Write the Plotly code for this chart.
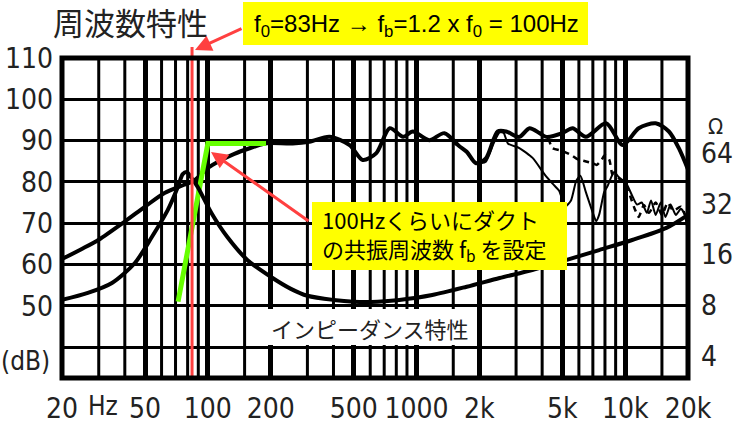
import numpy as np
import plotly.graph_objects as go

# ---------------- data ----------------
# main on-axis frequency response (Hz, dB)
resp_f = [20, 25, 30, 40, 50, 62, 77, 86, 100, 115, 134, 160, 185, 200, 255, 307, 383, 478, 552, 640,
          744, 862, 960, 1150, 1360, 1600, 1740, 1930, 2150, 2450, 2690, 3110, 3480, 3890, 4190,
          5000, 5600, 6480, 8100, 9740, 11600, 14000, 16200, 18100, 20000]
resp_db = [61.3, 63.8, 66.0, 70.4, 74.0, 77.3, 79.3, 80.3, 83.4, 85.2, 86.8, 88.2, 89.2, 89.4, 89.3, 89.7, 90.9, 88.9, 85.3, 86.9,
           93.0, 90.9, 92.2, 90.1, 91.8, 88.7, 87.3, 84.5, 85.7, 92.2, 92.2, 90.9, 93.0, 91.8, 90.9,
           91.8, 93.0, 90.9, 94.2, 88.9, 93.0, 94.2, 92.2, 88.1, 83.0]

# off-axis response 1 (thin solid)
offa_f = [1450, 1520, 1700, 1860, 1950, 2150, 2350, 2500, 2620, 2740, 3110, 3600, 4100, 4500, 4830, 5150,
          5500, 5830, 6100, 6480, 7000, 7260, 7500, 7930, 8200, 8850, 9300, 10100, 10900, 11400, 12000,
          12700, 13300, 14000, 14800, 15600, 16500, 17500, 18500, 19300, 20000]
offa_db = [90.6, 89.3, 87.7, 85.3, 84.5, 84.9, 89.5, 92.0, 91.8, 89.3, 88.2, 85.8, 81.9, 79.5, 77.8, 74.0,
           75.5, 80.3, 81.5, 77.5, 72.5, 70.5, 72.0, 77.5, 78.8, 82.4, 81.2, 79.7, 76.2, 74.5, 75.0,
           72.5, 75.5, 72.0, 75.0, 71.5, 74.5, 72.0, 73.5, 72.0, 67.5]

# off-axis response 2 (dashed)
offb_f = [4300, 4470, 5000, 5510, 5900, 6430, 7000, 7300, 7700, 8000, 8400, 8700, 9300, 10000, 10400,
          11100, 11600, 12300, 13000, 14000, 15000, 16000, 17000, 18500, 20000]
offb_db = [90.5, 88.2, 87.5, 86.5, 85.5, 85.0, 84.5, 84.1, 85.3, 86.5, 85.3, 81.7, 80.9, 79.0, 77.5,
           73.5, 71.5, 74.4, 72.5, 75.0, 72.0, 75.0, 73.0, 74.0, 70.0]

# impedance (Hz, ohm)
imp_f = [20, 26.6, 34.7, 44.7, 53.9, 64.3, 71.8, 75.8, 79.2, 82, 89.4, 104, 124, 155, 200, 250, 300, 400,
         500, 650, 828, 1190, 1740, 2500, 3590, 5200, 7500, 10800, 15760, 20000]
imp_ohm = [8.6, 9.46, 10.84, 14.24, 20.3, 29.4, 40.2, 48.0, 49.4, 47.0, 40.2, 28.2, 20.3, 14.8, 11.8, 10.0, 9.1, 8.6,
           8.4, 8.4, 8.6, 9.2, 10.3, 11.6, 12.95, 14.8, 17.0, 19.5, 23.0, 27.5]

# duct tuning guide (green)
guide_f = [72, 100, 190]
guide_db = [51.0, 89.3, 89.3]

F0 = 84  # red marker line (f0)

# axes
x_major = [20, 50, 100, 200, 500, 1000, 2000, 5000, 10000, 20000]
x_major_txt = ["20", "50", "100", "200", "500", "1000", "2k", "5k", "10k", "20k"]
x_minor = [30, 40, 60, 70, 80, 90, 150, 300, 400, 600, 700, 800, 900, 1500,
           3000, 4000, 6000, 7000, 8000, 9000, 15000]
y_ticks = [40, 50, 60, 70, 80, 90, 100, 110]
y_ticktxt = ["", "50", "60", "70", "80", "90", "100", "110"]
y2_ticks = [4, 8, 16, 32, 64]
y2_ticktxt = ["4", "8", "16", "32", "64"]

# ---------------- figure ----------------
NUM_FONT = "Liberation Sans Narrow, DejaVu Sans Condensed, Liberation Sans, Arial, sans-serif"
JP_FONT = "Noto Sans CJK JP, sans-serif"
INK = "#222222"
RED = "#ff4040"

fig = go.Figure()
fig.add_trace(go.Scatter(x=imp_f, y=imp_ohm, yaxis="y2", mode="lines",
                         line=dict(color="black", width=4, shape="spline", smoothing=0.8),
                         hoverinfo="skip", showlegend=False))
fig.add_trace(go.Scatter(x=resp_f, y=resp_db, mode="lines",
                         line=dict(color="black", width=4, shape="spline", smoothing=0.8),
                         hoverinfo="skip", showlegend=False))
fig.add_trace(go.Scatter(x=offa_f, y=offa_db, mode="lines",
                         line=dict(color="black", width=2, shape="spline", smoothing=0.6),
                         hoverinfo="skip", showlegend=False))
fig.add_trace(go.Scatter(x=offb_f, y=offb_db, mode="lines",
                         line=dict(color="black", width=2.5, dash="6px,5px", shape="spline", smoothing=0.6),
                         hoverinfo="skip", showlegend=False))
fig.add_trace(go.Scatter(x=guide_f, y=guide_db, mode="lines",
                         line=dict(color="#66ff00", width=5),
                         hoverinfo="skip", showlegend=False))

W, H = 740, 425
L, R, T, B = 62, 52, 58, 47
PW, PH = W - L - R, H - T - B


def px(xp):
    return (xp - L) / PW


def py(yp):
    return (H - B - yp) / PH


fig.update_layout(
    width=W, height=H,
    margin=dict(l=L, r=R, t=T, b=B, pad=0, autoexpand=False),
    paper_bgcolor="white", plot_bgcolor="white",
    xaxis=dict(type="log", range=[np.log10(20), np.log10(20000)], automargin=False,
               tickmode="array", tickvals=x_major, ticktext=x_major_txt,
               showgrid=True, gridcolor="black", gridwidth=5,
               ticks="", showline=False, zeroline=False, ticklabelstandoff=11,
               tickfont=dict(family=NUM_FONT, size=28, color=INK)),
    yaxis=dict(range=[32.5, 110], tickmode="array", tickvals=y_ticks, ticktext=y_ticktxt, automargin=False,
               showgrid=True, gridcolor="black", gridwidth=3,
               ticks="", showline=False, zeroline=False, ticklabelstandoff=8,
               tickfont=dict(family=NUM_FONT, size=28, color=INK)),
    yaxis2=dict(overlaying="y", side="right", type="log", automargin=False,
                range=[np.log10(2.96), np.log10(234.3)],
                tickmode="array", tickvals=y2_ticks, ticktext=y2_ticktxt,
                showgrid=False, ticks="", showline=False, zeroline=False, ticklabelstandoff=12,
                tickfont=dict(family=NUM_FONT, size=28, color=INK)),
)

shapes = []
# thin vertical grid lines (unlabelled frequencies)
for f in x_minor:
    shapes.append(dict(type="line", xref="x", yref="paper", x0=f, x1=f, y0=0, y1=1,
                       line=dict(color="black", width=3), layer="below"))
shapes += [
    # white patch behind impedance label
    dict(type="rect", xref="paper", yref="paper", x0=px(265), x1=px(475), y0=py(345), y1=py(309),
         fillcolor="white", line=dict(width=0), layer="above"),
    # yellow callouts
    dict(type="rect", xref="paper", yref="paper", x0=px(243), x1=px(588), y0=py(45), y1=py(2),
         fillcolor="#ffff00", line=dict(width=0), layer="above"),
    dict(type="rect", xref="paper", yref="paper", x0=px(312), x1=px(567), y0=py(270), y1=py(202),
         fillcolor="#ffff00", line=dict(width=0), layer="above"),
    # f0 marker
    dict(type="line", xref="x", yref="paper", x0=F0, x1=F0, y0=0, y1=py(47),
         line=dict(color=RED, width=3), layer="above"),
    # frame
    dict(type="rect", xref="paper", yref="paper", x0=0, x1=1, y0=0, y1=1,
         line=dict(color="black", width=5), layer="above"),
]
fig.update_layout(shapes=shapes)

ann = [
    dict(text="周波数特性", xref="paper", yref="paper", x=px(51), y=py(22), xanchor="left", yanchor="middle",
         showarrow=False, font=dict(family=JP_FONT, size=31, color=INK)),
    dict(text="f<sub>0</sub>=83Hz → f<sub>b</sub>=1.2 x f<sub>0</sub> = 100Hz", xref="paper", yref="paper",
         x=px(416), y=py(25), xanchor="center", yanchor="middle", showarrow=False,
         font=dict(family="Liberation Sans, Arial, sans-serif", size=24, color="black")),
    dict(text="100Hzくらいにダクト<br>の共振周波数 f<sub>b</sub> を設定", xref="paper", yref="paper",
         x=px(320), y=py(234), xanchor="left", yanchor="middle", align="left", showarrow=False,
         font=dict(family=JP_FONT, size=22, color="black")),
    dict(text="インピーダンス特性", xref="paper", yref="paper", x=px(269), y=py(328),
         xanchor="left", yanchor="middle", showarrow=False,
         font=dict(family=JP_FONT, size=22, color=INK)),
    dict(text="(dB)", xref="paper", yref="paper", x=px(52), y=py(361), xanchor="right", yanchor="middle",
         showarrow=False, font=dict(family=NUM_FONT, size=26, color=INK)),
    dict(text="Ω", xref="paper", yref="paper", x=px(715), y=py(126), xanchor="center", yanchor="middle",
         showarrow=False, font=dict(family=NUM_FONT, size=22, color=INK)),
    dict(text="Hz", xref="paper", yref="paper", x=px(86), y=py(406), xanchor="left", yanchor="middle",
         showarrow=False, font=dict(family=NUM_FONT, size=26, color=INK)),
    # arrows
    dict(text="", xref="paper", yref="paper", x=px(195), y=py(50), ax=48, ay=-22,
         showarrow=True, arrowhead=2, arrowsize=1.1, arrowwidth=3, arrowcolor=RED, standoff=0),
    dict(text="", xref="paper", yref="paper", x=px(211), y=py(152), ax=99, ay=70,
         showarrow=True, arrowhead=2, arrowsize=1.1, arrowwidth=3, arrowcolor=RED, standoff=0),
]
fig.update_layout(annotations=ann)

fig.write_html("out.html")
